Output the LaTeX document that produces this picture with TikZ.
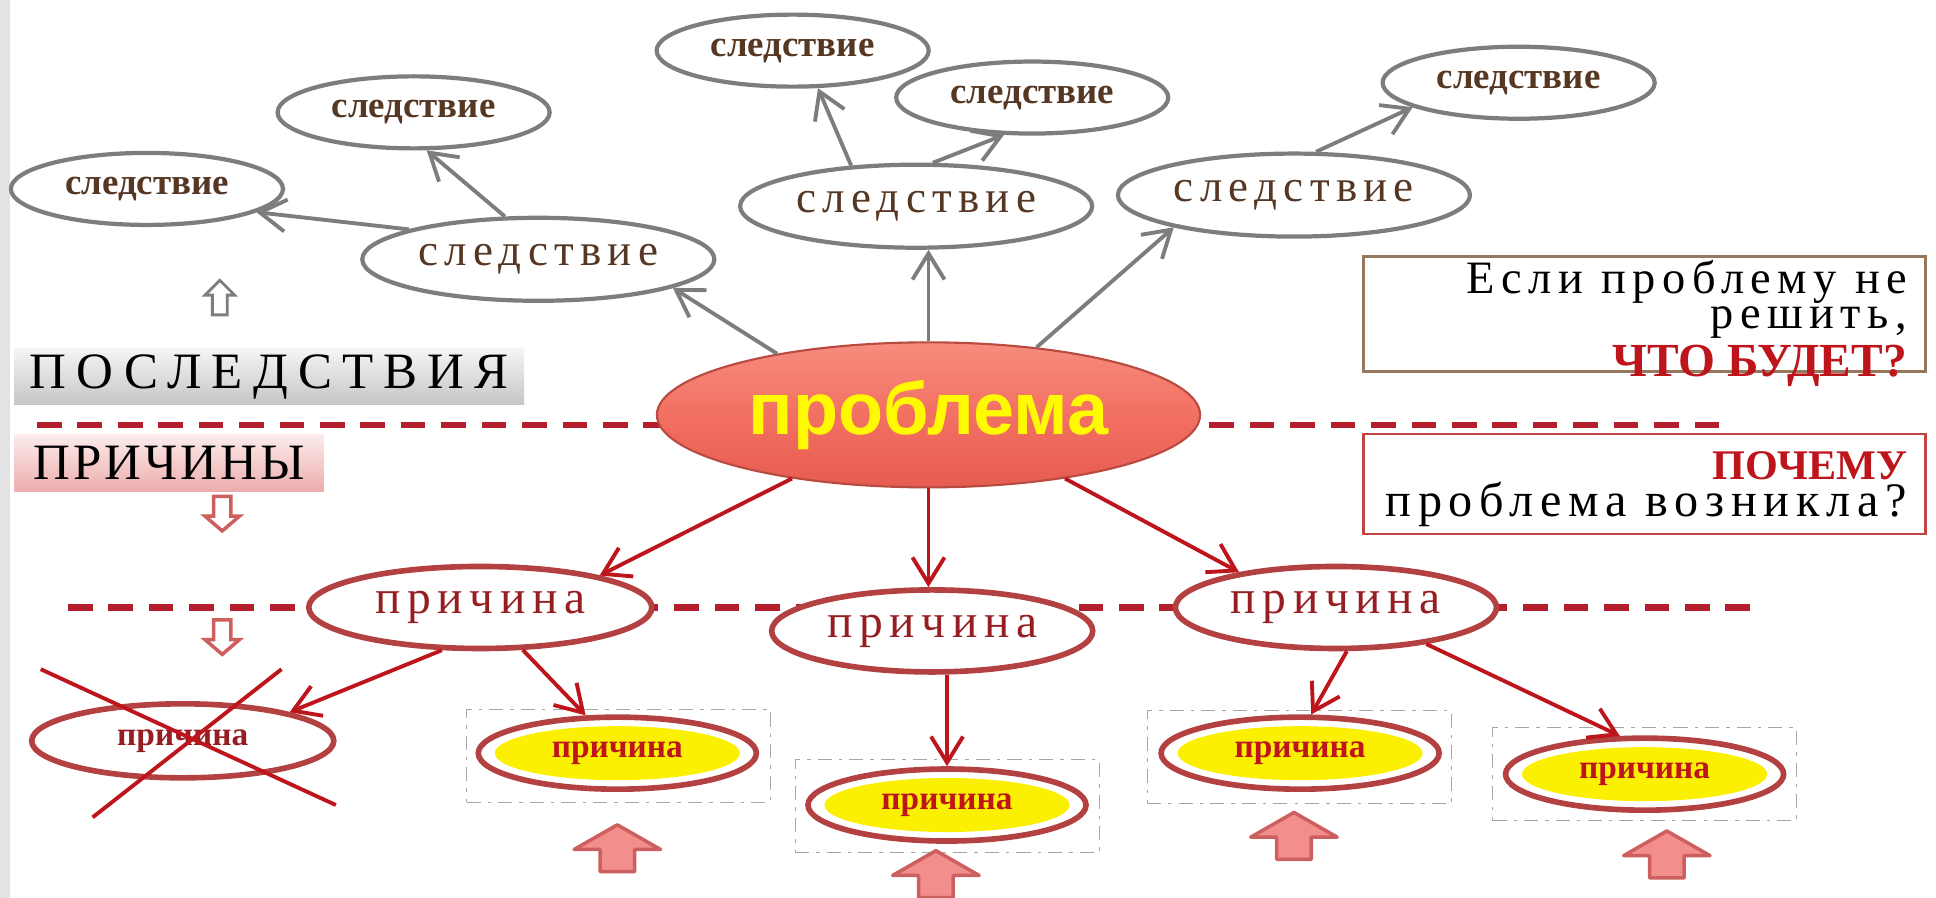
\documentclass[tikz,border=0pt]{standalone}
\usepackage{fontspec}
\setmainfont{Liberation Serif}
\newfontfamily\headfont{Liberation Sans}
\newfontfamily\spfont[LetterSpace=14]{Liberation Serif}
\newfontfamily\capfont[LetterSpace=20]{Liberation Serif}
\newfontfamily\narfont[LetterSpace=6]{Liberation Serif}
\usetikzlibrary{shapes.geometric, arrows.meta}

\definecolor{sedgray}{RGB}{125,125,125}
\definecolor{sedtext}{RGB}{85,55,35}
\definecolor{causered}{RGB}{190,20,28}
\definecolor{causetext}{RGB}{150,30,35}
\definecolor{dashred}{RGB}{180,30,45}
\definecolor{ringred}{RGB}{180,65,65}
\definecolor{probtop}{RGB}{246,140,125}
\definecolor{probmid}{RGB}{242,112,98}
\definecolor{probbot}{RGB}{230,92,80}
\definecolor{pinkfill}{RGB}{242,142,140}
\definecolor{pinkedge}{RGB}{205,95,95}
\definecolor{boxbrown}{RGB}{150,120,95}
\definecolor{boxred}{RGB}{195,70,70}
\definecolor{yellowcore}{RGB}{250,240,0}

\tikzset{
  sed/.style={ellipse, draw=sedgray, line width=1.2pt, fill=white, inner sep=0pt, text=sedtext},
  sedsmall/.style={sed, minimum width=2.72cm, minimum height=0.72cm, font=\fontsize{10.5}{12}\selectfont\bfseries},
  sedbig/.style={sed, minimum width=3.52cm, minimum height=0.83cm, font=\fontsize{12.8}{14}\spfont},
  grayarr/.style={->, draw=sedgray, line width=1.1pt},
  redarr/.style={->, draw=causered, line width=1.1pt},
  cause/.style={ellipse, draw=ringred, line width=1.6pt, fill=white, inner sep=0pt, minimum width=3.21cm, minimum height=0.82cm, text=causetext, font=\fontsize{13.5}{16}\spfont},
  yring/.style={ellipse, draw=ringred, line width=1.6pt, fill=white, inner sep=0pt, minimum width=2.78cm, minimum height=0.72cm},
  ycore/.style={ellipse, fill=yellowcore, inner sep=0pt, minimum width=2.45cm, minimum height=0.54cm, text=causered, font=\fontsize{9.5}{11}\selectfont\bfseries},
  dbox/.style={draw=gray!70, very thin, dash pattern=on 4pt off 2pt on 1pt off 2pt, minimum width=3.04cm, minimum height=0.93cm, inner sep=0pt},
  sidebox/.style={draw=#1, line width=0.8pt, fill=white, minimum width=5.62cm, inner sep=0pt},
  sidetext/.style={anchor=east, inner sep=0pt, align=right},
  linebreak/.style={dashred, line width=1.8pt, dash pattern=on 7pt off 4.5pt},
  bigup/.pic={\draw[pinkedge, fill=pinkfill, line width=1pt, line join=round] (0,-19) -- (35,1) -- (14,1) -- (14,19) -- (-14,19) -- (-14,1) -- (-35,1) -- cycle;},
  smallup/.pic={\draw[sedgray, fill=white, line width=0.8pt] (0,-14) -- (12,-2) -- (6,-2) -- (6,14) -- (-6,14) -- (-6,-2) -- (-12,-2) -- cycle;},
  smalldown/.pic={\draw[pinkedge, fill=white, line width=1pt] (0,14) -- (14,2) -- (7,2) -- (7,-14) -- (-7,-14) -- (-7,2) -- (-14,2) -- cycle;}
}

\begin{document}
\begin{tikzpicture}[x=0.012347cm, y=-0.012347cm, >={Straight Barb[length=2.6mm, width=3.2mm, line width=1.1pt]}]
\useasboundingbox (0,0) rectangle (1568,727);
\fill[gray!22] (0,0) rectangle (8,727);

\draw[linebreak] (30,344) -- (1402,344);
\draw[linebreak] (55,492) -- (1420,492);

\node[sedsmall] (s1) at (119,153) {следствие};
\node[sedsmall] (s2) at (335,91) {следствие};
\node[sedbig] (s3) at (436,210) {следствие};
\node[sedsmall] (s4) at (642,41) {следствие};
\node[sedsmall] (s5) at (836,79) {следствие};
\node[sedbig] (s6) at (742,167) {следствие};
\node[sedbig] (s7) at (1048,158) {следствие};
\node[sedsmall] (s8) at (1230,67) {следствие};

\node[ellipse, draw=probbot!80!black, line width=0.6pt, top color=probtop, bottom color=probbot, middle color=probmid, minimum width=5.43cm, minimum height=1.45cm, inner sep=0pt, text={rgb,255:red,255;green,250;blue,0}, font=\fontsize{21}{24}\headfont\bfseries] (prob) at (752,336) {проблема};

\node[cause, minimum width=3.43cm] (c1) at (389,492) {причина};
\node[cause] (c2) at (755,511) {причина};
\node[cause] (c3) at (1082,492) {причина};

\node[ellipse, draw=ringred, line width=1.6pt, fill=white, inner sep=0pt, minimum width=3.02cm, minimum height=0.74cm, text=causetext, font=\fontsize{9.5}{11}\selectfont\bfseries] (c0) at (148,600) {причина};
\coordinate (x1a) at (33,542); \coordinate (x1b) at (272,652);
\coordinate (x2a) at (228,542); \coordinate (x2b) at (75,662);
\draw[causered, line width=1.1pt] (x1a) -- (x1b);
\draw[causered, line width=1.1pt] (x2a) -- (x2b);

\node[dbox] (b1) at (501,612) {};
\node[dbox] (b2) at (767,653) {};
\node[dbox] (b3) at (1052,613) {};
\node[dbox] (b4) at (1332,627) {};
\node[yring] (y1) at (500,610) {}; \node[ycore] (y1t) at (y1) {причина};
\node[yring] (y2) at (767,652) {}; \node[ycore] (y2t) at (y2) {причина};
\node[yring] (y3) at (1053,610) {}; \node[ycore] (y3t) at (y3) {причина};
\node[yring] (y4) at (1332,627) {}; \node[ycore] (y4t) at (y4) {причина};

\pic at (500,687) {bigup};
\pic at (758,708) {bigup};
\pic at (1048,677) {bigup};
\pic at (1350,692) {bigup};

\pic at (178,241) {smallup};
\pic at (180,416) {smalldown};
\pic at (180,516) {smalldown};

\node[top color=gray!8, bottom color=gray!45, minimum width=5.1cm, minimum height=0.56cm, inner sep=0pt, font=\fontsize{14.5}{16}\capfont] (cons) at (218,305) {ПОСЛЕДСТВИЯ};
\node[top color={rgb,255:red,253;green,236;blue,236}, bottom color={rgb,255:red,236;green,172;blue,172}, minimum width=3.09cm, minimum height=0.57cm, inner sep=0pt, font=\fontsize{14.5}{16}\narfont] (caus) at (137,375) {ПРИЧИНЫ};

\node[sidebox=boxbrown, minimum height=1.15cm] (q1) at (1332,254) {};
\node[sidetext, font=\fontsize{13.2}{10}\spfont] (q1t) at (1545,262) {Если проблему не\\решить,\\[1pt]\textcolor{causered}{\fontsize{13.5}{10}\selectfont\rmfamily\bfseries ЧТО БУДЕТ?}};
\node[sidebox=boxred, minimum height=1.0cm] (q2) at (1332,392) {};
\node[sidetext, font=\fontsize{13.7}{10.5}\spfont] (q2t) at (1545,396) {\textcolor{causered}{\fontsize{12}{10.5}\selectfont\rmfamily\bfseries ПОЧЕМУ}\\проблема возникла?};

\draw[grayarr] (s3.167) -- (s1.-12);
\draw[grayarr] (s3.128) -- (s2.-71);
\draw[grayarr] (s6.148) -- (s4.-56);
\draw[grayarr] (s6.69) -- (s5.-127);
\draw[grayarr] (s7.63) -- (s8.-167);
\draw[grayarr] (prob.158) -- (s3.-12);
\draw[grayarr] (prob.north) -- (prob.north |- s6.south);
\draw[grayarr] (prob.32) -- (s7.-165);
\draw[redarr] (prob.205) -- (c1.15);
\draw[redarr] (prob.south) -- (prob.south |- c2.north);
\draw[redarr] (prob.-25) -- (c3.160);
\draw[redarr] (c1.-132) -- (c0.15);
\draw[redarr] (c1.-45) -- (y1.130);
\draw[redarr] (y2.north |- c2.south) -- (y2.north);
\draw[redarr] (c3.-76) -- (y3.74);
\draw[redarr] (c3.-22) -- (y4.123);
\end{tikzpicture}
\end{document}
